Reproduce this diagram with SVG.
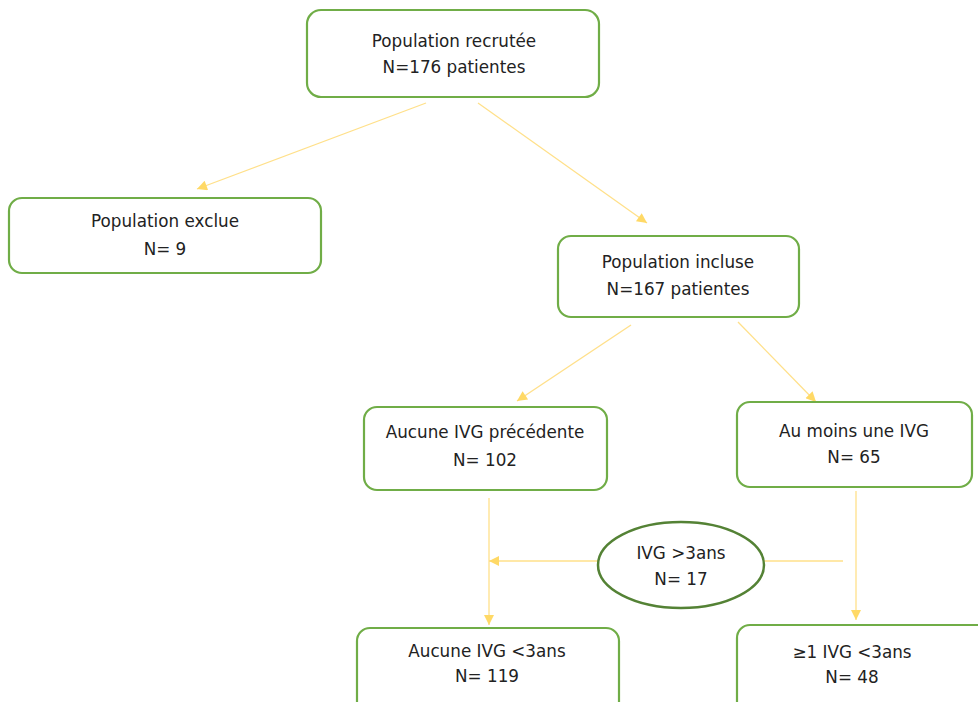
<svg xmlns="http://www.w3.org/2000/svg" width="978" height="702" viewBox="0 0 978 702">
<style>
.box{fill:#fff;stroke:#70AD47;stroke-width:2.2}
.ell{fill:#fff;stroke:#548235;stroke-width:2.5}
.t{font-family:"DejaVu Sans",sans-serif;font-size:16.8px;fill:#222;text-anchor:middle}
.c{fill:none;stroke:#FFE08A;stroke-width:1.3}
</style>
<defs>
<marker id="ah" viewBox="0 0 10 10" refX="10" refY="5" markerWidth="12" markerHeight="10" markerUnits="userSpaceOnUse" orient="auto">
<path d="M0,0 L10,5 L0,10 z" fill="#FFD966"/>
</marker>
</defs>
<rect width="978" height="702" fill="#fff"/>
<g id="connectors">
<line class="c" x1="426" y1="103" x2="197" y2="189" marker-end="url(#ah)"/>
<line class="c" x1="478" y1="103" x2="647" y2="223" marker-end="url(#ah)"/>
<line class="c" x1="631" y1="325" x2="517" y2="401" marker-end="url(#ah)"/>
<line class="c" x1="738" y1="322" x2="816" y2="402" marker-end="url(#ah)"/>
<line class="c" x1="489" y1="498" x2="489" y2="625" marker-end="url(#ah)"/>
<line class="c" x1="856" y1="491" x2="856" y2="620" marker-end="url(#ah)"/>
<line class="c" x1="598" y1="561" x2="489" y2="561" marker-end="url(#ah)"/>
<line class="c" x1="764" y1="561" x2="843" y2="561"/>
</g>
<g id="recrutee">
<rect class="box" x="307" y="10" width="292" height="87" rx="14"/>
<text class="t" x="454" y="47">Population recrutée</text>
<text class="t" x="454" y="73">N=176 patientes</text>
</g>
<g id="exclue">
<rect class="box" x="9" y="198" width="312" height="75" rx="13"/>
<text class="t" x="165" y="227">Population exclue</text>
<text class="t" x="165" y="255">N= 9</text>
</g>
<g id="incluse">
<rect class="box" x="558" y="236" width="241" height="81" rx="13"/>
<text class="t" x="678" y="268">Population incluse</text>
<text class="t" x="678" y="295">N=167 patientes</text>
</g>
<g id="aucune">
<rect class="box" x="364" y="407" width="243" height="83" rx="13"/>
<text class="t" x="485" y="438">Aucune IVG précédente</text>
<text class="t" x="485" y="466">N= 102</text>
</g>
<g id="aumoins">
<rect class="box" x="737" y="402" width="235" height="85" rx="13"/>
<text class="t" x="854" y="437">Au moins une IVG</text>
<text class="t" x="854" y="463">N= 65</text>
</g>
<g id="ivg3ans">
<ellipse class="ell" cx="681" cy="565" rx="83" ry="43"/>
<text class="t" x="681" y="559">IVG &gt;3ans</text>
<text class="t" x="681" y="585">N= 17</text>
</g>
<g id="aucune3ans">
<rect class="box" x="357" y="628" width="262" height="90" rx="13"/>
<text class="t" x="487" y="657">Aucune IVG &lt;3ans</text>
<text class="t" x="487" y="682">N= 119</text>
</g>
<g id="un3ans">
<rect class="box" x="737" y="625" width="260" height="90" rx="13"/>
<text class="t" x="852" y="658">≥1 IVG &lt;3ans</text>
<text class="t" x="852" y="683">N= 48</text>
</g>
</svg>
